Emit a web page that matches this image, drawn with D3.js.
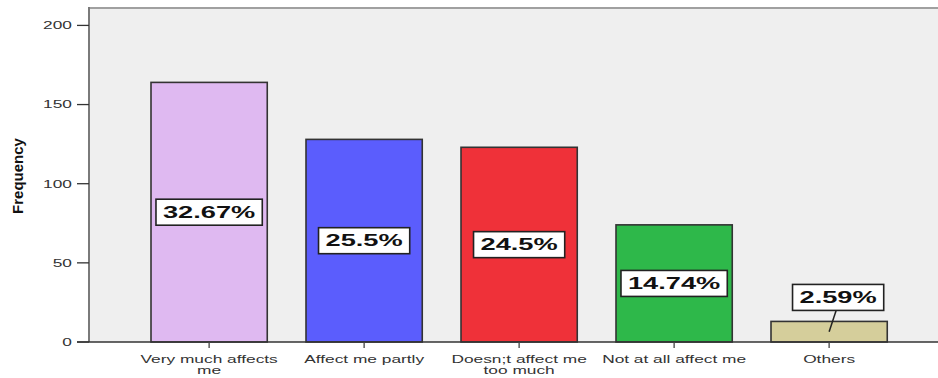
<!DOCTYPE html>
<html>
<head>
<meta charset="utf-8">
<script src="https://cdn.jsdelivr.net/npm/d3@7"></script>
<style>
html,body{margin:0;padding:0;background:#fff;}
svg{display:block;}
text{font-family:Arial,"Liberation Sans",sans-serif;}
</style>
</head>
<body>
<svg id="chart" width="938" height="378"></svg>
<script>
const categories = ["Very much affects me","Affect me partly","Doesn;t affect me too much","Not at all affect me","Others"];
const categoryLines = [["Very much affects","me"],["Affect me partly"],["Doesn;t affect me","too much"],["Not at all affect me"],["Others"]];
const frequencies = [164,128,123,74,13];
const percentLabels = ["32.67%","25.5%","24.5%","14.74%","2.59%"];
const barColors = ["#dfb9f1","#5b5dfd","#ef3139","#2eb84a","#d5ce9b"];
const yTicks = [0,50,100,150,200];
const yTitle = "Frequency";

const svg = d3.select("#chart");
const plot = {left:89, right:945, top:8, bottom:342};
const SX = 1.65; // horizontal stretch of the original image's text

const x = d3.scaleBand().domain(categories).range([112.25, 926]).paddingInner(0.25).paddingOuter(0.25);
const y = d3.scaleLinear().domain([0, 211]).range([plot.bottom, plot.top]);

// plot background
svg.append("rect").attr("x",plot.left).attr("y",plot.top)
  .attr("width",plot.right-plot.left).attr("height",plot.bottom-plot.top)
  .attr("fill","#efefef");
// top border
svg.append("line").attr("x1",plot.left).attr("x2",plot.right).attr("y1",plot.top).attr("y2",plot.top)
  .attr("stroke","#a0a0a0").attr("stroke-width",2);
// left border
svg.append("line").attr("x1",plot.left).attr("x2",plot.left).attr("y1",plot.top-1).attr("y2",plot.bottom)
  .attr("stroke","#7a7a7a").attr("stroke-width",2);

function stretched(parent, tx, ty, str, size, weight, anchor, fill){
  const g = parent.append("g").attr("transform",`translate(${tx},${ty}) scale(${SX},1)`);
  const t = g.append("text").attr("x",0).attr("y",0).attr("text-anchor",anchor)
    .attr("font-size",size).attr("font-weight",weight).attr("fill",fill).text(str);
  return t;
}

// y axis ticks and labels
const yAxis = svg.append("g");
yTicks.forEach(v=>{
  yAxis.append("line").attr("x1",77).attr("x2",plot.left).attr("y1",y(v)).attr("y2",y(v))
    .attr("stroke","#333").attr("stroke-width",1.3);
  stretched(yAxis, 72, y(v)+3.8, d3.format("d")(v), 10.5, "normal", "end", "#333");
});

// y title
svg.append("text").attr("transform",`translate(22.5,${176}) rotate(-90)`)
  .attr("text-anchor","middle").attr("font-size",15).attr("font-weight","bold")
  .attr("fill","#111").text(yTitle);

// bars
svg.append("g").selectAll("rect").data(categories).join("rect")
  .attr("x",d=>x(d)).attr("width",x.bandwidth())
  .attr("y",(d,i)=>y(frequencies[i])).attr("height",(d,i)=>y(0)-y(frequencies[i]))
  .attr("fill",(d,i)=>barColors[i]).attr("stroke","#333").attr("stroke-width",1.6);

// x axis line
svg.append("line").attr("x1",77).attr("x2",plot.right).attr("y1",plot.bottom).attr("y2",plot.bottom)
  .attr("stroke","#333").attr("stroke-width",1.6);

// x ticks and labels
const xAxis = svg.append("g");
categories.forEach((c,i)=>{
  const cx = x(c)+x.bandwidth()/2;
  xAxis.append("line").attr("x1",cx).attr("x2",cx).attr("y1",plot.bottom).attr("y2",348)
    .attr("stroke","#444").attr("stroke-width",1.3);
  categoryLines[i].forEach((ln,k)=>{
    stretched(xAxis, cx, 363 + k*10.5, ln, 10.5, "normal", "middle", "#333");
  });
});

// percentage labels
const lab = svg.append("g");
categories.forEach((c,i)=>{
  const cx = x(c)+x.bandwidth()/2;
  const v = frequencies[i];
  let lx = cx, ly = y(v/2);
  const small = (y(0)-y(v)) < 35;
  if(small){ lx = cx + 9; ly = y(v) - 24; }
  const g = lab.append("g");
  const t = stretched(g, lx, ly+5.8, percentLabels[i], 16.5, "bold", "middle", "#111");
  const w = t.node().getComputedTextLength()*SX + 14;
  const h = 26;
  if(small){
    g.insert("line",":first-child").attr("x1",lx-2).attr("y1",ly+h/2).attr("x2",cx).attr("y2",y(v/2))
      .attr("stroke","#222").attr("stroke-width",1.5);
  }
  g.insert("rect","g").attr("x",lx-w/2).attr("y",ly-h/2).attr("width",w).attr("height",h)
    .attr("fill","#fff").attr("stroke","#222").attr("stroke-width",1.6);
});
</script>
</body>
</html>
